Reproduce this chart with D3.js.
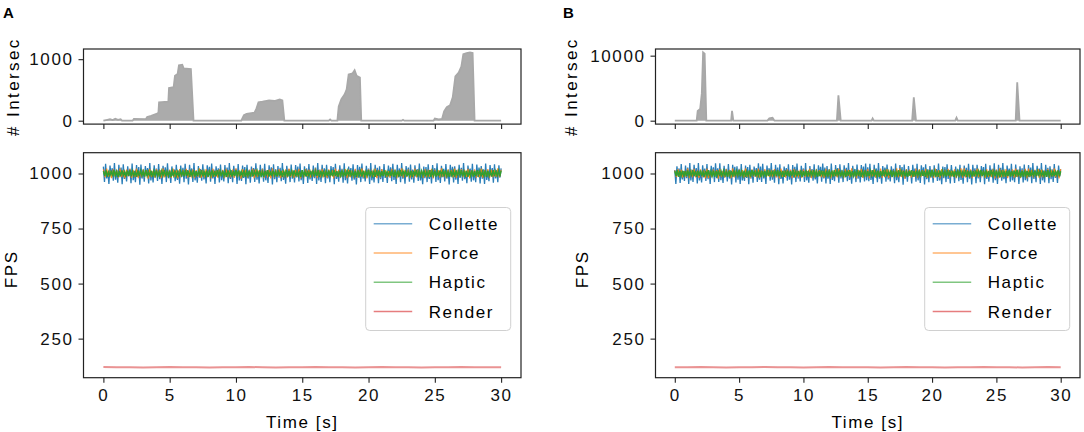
<!DOCTYPE html>
<html>
<head>
<meta charset="utf-8">
<script src="https://cdn.jsdelivr.net/npm/d3@7"></script>
<style>
  body { margin: 0; background: #fff; }
  svg { display: block; }
  text { font-family: "Liberation Sans", Arial, sans-serif; }
</style>
</head>
<body>
<div id="chart"></div>
<script>
// ---- intersections over time ----
const intersecTimeA = [0, 0.3, 0.5, 0.7, 0.9, 1.1, 1.3, 1.4, 2.2, 2.3, 3.2, 3.3, 3.6, 4.0, 4.15, 4.2, 4.9, 4.95, 5.3, 5.4, 5.6, 5.7, 5.95, 6.05, 6.6, 6.8,
  10.4, 10.6, 10.8, 11.4, 11.55, 11.7, 12.0, 12.5, 12.9, 13.3, 13.5, 13.65,
  17.0, 17.1, 17.2, 17.65, 17.75, 17.95, 18.2, 18.35, 18.5, 18.8, 18.95, 19.1, 19.35, 19.45,
  22.5, 22.6, 22.7, 24.9, 25.0, 25.3, 25.55, 25.7, 25.9, 26.15, 26.35, 26.55, 26.8, 27.0, 27.15, 27.4, 27.65, 27.85, 28.0, 30];
const intersecCountA = [0, 15, 25, 10, 30, 15, 25, 0, 0, 30, 25, 60, 80, 110, 130, 300, 310, 530, 545, 730, 760, 900, 910, 850, 840, 0,
  0, 90, 110, 130, 200, 300, 310, 330, 320, 345, 330, 0,
  0, 20, 0, 0, 230, 350, 430, 510, 750, 770, 820, 730, 700, 0,
  0, 15, 0, 0, 35, 20, 30, 150, 220, 250, 380, 720, 780, 880, 1080, 1100, 1110, 1100, 0, 0];

const intersecTimeB = [0, 1.7, 1.78, 1.97, 2.1, 2.2, 2.32, 2.45, 4.38, 4.45, 4.55, 7.2, 7.35, 7.6, 7.75,
  12.6, 12.72, 12.9, 15.3, 15.38, 15.48, 18.45, 18.58, 18.75, 21.8, 21.9, 22.0, 26.5, 26.62, 26.8, 30];
const intersecCountB = [0, 0, 1500, 1800, 4200, 10500, 10300, 0, 0, 1500, 0, 0, 350, 450, 0,
  0, 3900, 0, 0, 350, 0, 0, 3600, 0, 0, 450, 0, 0, 5900, 0, 0];

// ---- frame rates, evenly sampled over 0..30 s ----
const colletteA = [
  1031, 962, 1044, 978, 1009, 953, 1036, 991, 1024, 967, 1047, 972, 1015, 958, 1039, 983, 1027, 951, 1042, 975,
  1006, 964, 1033, 988, 1021, 956, 1045, 970, 1012, 960, 1038, 985, 1029, 949, 1041, 977, 1017, 963, 1034, 990,
  1025, 955, 1048, 968, 1010, 959, 1037, 982, 1022, 966, 1043, 974, 1014, 952, 1035, 987, 1028, 961, 1046, 979,
  1008, 957, 1032, 989, 1019, 965, 1040, 971, 1013, 954, 1036, 984, 1026, 960, 1044, 976, 1016, 950, 1039, 986,
  1023, 962, 1047, 969, 1011, 958, 1034, 981, 1020, 967, 1042, 973, 1007, 955, 1037, 988, 1030, 963, 1045, 978,
  1018, 952, 1033, 985, 1024, 959, 1041, 970, 1012, 964, 1038, 983, 1027, 956, 1048, 975, 1015, 961, 1035, 990,
  1021, 953, 1043, 968, 1009, 966, 1036, 980, 1029, 951, 1040, 977, 1017, 958, 1032, 986, 1025, 962, 1046, 972,
  1010, 955, 1039, 984, 1022, 963, 1044, 969, 1014, 957, 1037, 989, 1028, 950, 1042, 974, 1019, 960, 1034, 981,
  1026, 965, 1047, 971, 1008, 954, 1035, 987, 1020, 961, 1041, 976, 1013, 959, 1038, 982, 1031, 964, 1045, 970,
  1016, 952, 1033, 988, 1023, 957, 1043, 973, 1011, 966, 1036, 979, 1027, 953, 1048, 968, 1018, 962, 1040, 985,
  1024, 956, 1039, 978, 1012, 960, 1034, 990, 1029, 951, 1044, 975, 1009, 963, 1037, 983, 1021, 958, 1046, 970,
  1014, 955, 1032, 986, 1025, 967, 1042, 972, 1017, 950, 1038, 981, 1030, 961, 1045, 977, 1010, 964, 1035, 989,
  1022, 953, 1047, 969, 1013, 959, 1040, 984, 1026, 956, 1033, 974, 1019, 962, 1043, 980, 1008, 957, 1036, 987,
  1028, 965, 1044, 971, 1015, 952, 1039, 982, 1023, 960, 1048, 976, 1011, 954, 1034, 988, 1027, 963, 1041, 973,
  1018, 958, 1037, 985, 1020, 966, 1045, 968, 1009, 951, 1032, 979, 1029, 961, 1042, 975, 1016, 955, 1038, 990,
  1024, 962, 1046, 970, 1012, 957, 1035, 983, 1021, 964, 1043, 977, 1014, 950, 1040, 986, 1030, 959, 1033, 972,
  1017, 953, 1039, 981, 1026, 967, 1047, 974, 1010, 956, 1036, 989, 1022, 963, 1044, 969, 1013, 960, 1041, 984,
  1027, 955, 1034, 976, 1019, 952, 1045, 971, 1008, 965, 1038, 987, 1025, 958, 1042, 978, 1015, 961, 1037, 982,
  1023];
const forceA = [
  1019, 982, 1022, 986, 1013, 979, 1020, 988, 1016, 981, 1023, 984, 1010, 978, 1018, 987, 1021, 980, 1014, 985,
  1022, 979, 1011, 983, 1019, 988, 1015, 977, 1021, 984, 1012, 981, 1020, 986, 1017, 979, 1023, 982, 1009, 987,
  1018, 980, 1022, 985, 1014, 978, 1020, 983, 1016, 988, 1021, 981, 1012, 986, 1019, 979, 1015, 984, 1023, 980,
  1011, 987, 1020, 982, 1017, 978, 1022, 985, 1013, 981, 1019, 988, 1016, 979, 1021, 983, 1010, 986, 1018, 980,
  1023, 984, 1014, 977, 1020, 987, 1017, 981, 1012, 985, 1022, 979, 1019, 983, 1015, 988, 1021, 980, 1011, 986,
  1018, 978, 1023, 982, 1016, 985, 1020, 979, 1013, 987, 1019, 981, 1022, 984, 1010, 980, 1017, 986, 1021, 978,
  1014, 983, 1020, 988, 1018, 981, 1012, 985, 1023, 979, 1016, 982, 1021, 987, 1011, 980, 1019, 984, 1015, 978,
  1022, 986, 1017, 981, 1013, 988, 1020, 979, 1018, 983, 1009, 985, 1021, 980, 1016, 987, 1023, 982, 1014, 978,
  1019, 984, 1012, 986, 1022, 979, 1017, 981, 1020, 988, 1015, 983, 1011, 980, 1021, 985, 1018, 978, 1013, 987,
  1023, 981, 1016, 984, 1019, 979, 1010, 986, 1022, 982, 1017, 988, 1014, 980, 1020, 983, 1012, 985, 1021, 978,
  1018, 987, 1015, 981, 1023, 984, 1011, 979, 1019, 986, 1016, 982, 1022, 980, 1013, 988, 1020, 983, 1017, 985,
  1021, 978, 1014, 987, 1019, 981, 1012, 984, 1022, 980, 1016, 986, 1020, 979, 1018, 983, 1010, 985, 1023, 982,
  1017];
const hapticA = [
  1011, 989, 1014, 986, 1008, 991, 1013, 987, 1015, 990, 1010, 985, 1012, 988, 1014, 992, 1009, 986, 1013, 989,
  1015, 987, 1011, 990, 1007, 985, 1014, 988, 1012, 991, 1010, 986, 1015, 989, 1009, 987, 1013, 985, 1011, 990,
  1014, 988, 1008, 986, 1012, 991, 1015, 987, 1010, 989, 1013, 985, 1011, 990, 1014, 988, 1009, 986, 1012, 992,
  1010, 987, 1015, 989, 1013, 985, 1008, 990, 1014, 986, 1011, 988, 1012, 991, 1015, 987, 1010, 989, 1013, 985,
  1009, 990, 1014, 986, 1012, 988, 1015, 991, 1011, 987, 1013, 989, 1008, 985, 1014, 990, 1010, 986, 1012, 988,
  1015, 991, 1013, 987, 1009, 989, 1014, 985, 1011, 990, 1012, 986, 1015, 988, 1010, 992, 1013, 987, 1014, 989,
  1008, 985, 1012, 990, 1015, 986, 1011, 988, 1013, 991, 1009, 987, 1014, 989, 1012, 985, 1010, 990, 1015, 986,
  1013, 988, 1011, 991, 1014, 987, 1008, 989, 1012, 985, 1015, 990, 1010, 986, 1013, 988, 1009, 992, 1014, 987,
  1011, 989, 1015, 985, 1012, 990, 1013, 986, 1010, 988, 1014, 991, 1009, 987, 1015, 989, 1011, 985, 1012, 990,
  1014, 986, 1010, 988, 1013, 992, 1015, 987, 1008, 989, 1012, 985, 1014, 990, 1011, 986, 1013, 988, 1009, 991,
  1015, 987, 1012, 989, 1010, 985, 1014, 990, 1013, 986, 1011, 988, 1015, 991, 1009, 987, 1012, 989, 1014, 985,
  1010, 990, 1013, 986, 1015, 988, 1011, 992, 1014, 987, 1008, 989, 1012, 985, 1013, 990, 1015, 986, 1010, 988,
  1012, 991, 1014, 987, 1009, 989, 1015, 985, 1011, 990, 1013, 986, 1010, 988, 1014, 992, 1012, 987, 1015, 989,
  1008, 985, 1013, 990, 1011, 986, 1014, 988, 1012, 991, 1015, 987, 1010, 989, 1013, 985, 1009, 990, 1014, 986,
  1011, 988, 1015, 992, 1012, 987, 1010, 989, 1014, 985, 1013, 990, 1008, 986, 1015, 988, 1011, 991, 1012, 987,
  1013];
const renderA = [121, 120, 120, 119, 120, 121, 120, 120, 119, 120, 120, 121, 120, 119, 120, 120, 121, 120, 120, 119, 120, 121, 120, 120, 119, 120, 120, 121, 120, 120, 120];

const colletteB = [
  1016, 952, 1033, 988, 1023, 957, 1043, 973, 1011, 966, 1036, 979, 1027, 953, 1048, 968, 1018, 962, 1040, 985,
  1025, 955, 1048, 968, 1010, 959, 1037, 982, 1022, 966, 1043, 974, 1014, 952, 1035, 987, 1028, 961, 1046, 979,
  1024, 962, 1046, 970, 1012, 957, 1035, 983, 1021, 964, 1043, 977, 1014, 950, 1040, 986, 1030, 959, 1033, 972,
  1021, 953, 1043, 968, 1009, 966, 1036, 980, 1029, 951, 1040, 977, 1017, 958, 1032, 986, 1025, 962, 1046, 972,
  1031, 962, 1044, 978, 1009, 953, 1036, 991, 1024, 967, 1047, 972, 1015, 958, 1039, 983, 1027, 951, 1042, 975,
  1014, 955, 1032, 986, 1025, 967, 1042, 972, 1017, 950, 1038, 981, 1030, 961, 1045, 977, 1010, 964, 1035, 989,
  1023, 962, 1047, 969, 1011, 958, 1034, 981, 1020, 967, 1042, 973, 1007, 955, 1037, 988, 1030, 963, 1045, 978,
  1027, 955, 1034, 976, 1019, 952, 1045, 971, 1008, 965, 1038, 987, 1025, 958, 1042, 978, 1015, 961, 1037, 982,
  1026, 965, 1047, 971, 1008, 954, 1035, 987, 1020, 961, 1041, 976, 1013, 959, 1038, 982, 1031, 964, 1045, 970,
  1028, 965, 1044, 971, 1015, 952, 1039, 982, 1023, 960, 1048, 976, 1011, 954, 1034, 988, 1027, 963, 1041, 973,
  1006, 964, 1033, 988, 1021, 956, 1045, 970, 1012, 960, 1038, 985, 1029, 949, 1041, 977, 1017, 963, 1034, 990,
  1010, 955, 1039, 984, 1022, 963, 1044, 969, 1014, 957, 1037, 989, 1028, 950, 1042, 974, 1019, 960, 1034, 981,
  1018, 958, 1037, 985, 1020, 966, 1045, 968, 1009, 951, 1032, 979, 1029, 961, 1042, 975, 1016, 955, 1038, 990,
  1008, 957, 1032, 989, 1019, 965, 1040, 971, 1013, 954, 1036, 984, 1026, 960, 1044, 976, 1016, 950, 1039, 986,
  1024, 956, 1039, 978, 1012, 960, 1034, 990, 1029, 951, 1044, 975, 1009, 963, 1037, 983, 1021, 958, 1046, 970,
  1017, 953, 1039, 981, 1026, 967, 1047, 974, 1010, 956, 1036, 989, 1022, 963, 1044, 969, 1013, 960, 1041, 984,
  1018, 952, 1033, 985, 1024, 959, 1041, 970, 1012, 964, 1038, 983, 1027, 956, 1048, 975, 1015, 961, 1035, 990,
  1022, 953, 1047, 969, 1013, 959, 1040, 984, 1026, 956, 1033, 974, 1019, 962, 1043, 980, 1008, 957, 1036, 987,
  1019];
const forceB = [
  1014, 983, 1020, 988, 1018, 981, 1012, 985, 1023, 979, 1016, 982, 1021, 987, 1011, 980, 1019, 984, 1015, 978,
  1022, 979, 1011, 983, 1019, 988, 1015, 977, 1021, 984, 1012, 981, 1020, 986, 1017, 979, 1023, 982, 1009, 987,
  1018, 987, 1015, 981, 1023, 984, 1011, 979, 1019, 986, 1016, 982, 1022, 980, 1013, 988, 1020, 983, 1017, 985,
  1011, 987, 1020, 982, 1017, 978, 1022, 985, 1013, 981, 1019, 988, 1016, 979, 1021, 983, 1010, 986, 1018, 980,
  1019, 984, 1012, 986, 1022, 979, 1017, 981, 1020, 988, 1015, 983, 1011, 980, 1021, 985, 1018, 978, 1013, 987,
  1019, 982, 1022, 986, 1013, 979, 1020, 988, 1016, 981, 1023, 984, 1010, 978, 1018, 987, 1021, 980, 1014, 985,
  1021, 978, 1014, 987, 1019, 981, 1012, 984, 1022, 980, 1016, 986, 1020, 979, 1018, 983, 1010, 985, 1023, 982,
  1023, 984, 1014, 977, 1020, 987, 1017, 981, 1012, 985, 1022, 979, 1019, 983, 1015, 988, 1021, 980, 1011, 986,
  1018, 980, 1022, 985, 1014, 978, 1020, 983, 1016, 988, 1021, 981, 1012, 986, 1019, 979, 1015, 984, 1023, 980,
  1023, 981, 1016, 984, 1019, 979, 1010, 986, 1022, 982, 1017, 988, 1014, 980, 1020, 983, 1012, 985, 1021, 978,
  1018, 978, 1023, 982, 1016, 985, 1020, 979, 1013, 987, 1019, 981, 1022, 984, 1010, 980, 1017, 986, 1021, 978,
  1022, 986, 1017, 981, 1013, 988, 1020, 979, 1018, 983, 1009, 985, 1021, 980, 1016, 987, 1023, 982, 1014, 978,
  1020];
const hapticB = [
  1011, 989, 1015, 985, 1012, 990, 1013, 986, 1010, 988, 1014, 991, 1009, 987, 1015, 989, 1011, 985, 1012, 990,
  1014, 988, 1008, 986, 1012, 991, 1015, 987, 1010, 989, 1013, 985, 1011, 990, 1014, 988, 1009, 986, 1012, 992,
  1008, 985, 1013, 990, 1011, 986, 1014, 988, 1012, 991, 1015, 987, 1010, 989, 1013, 985, 1009, 990, 1014, 986,
  1015, 991, 1013, 987, 1009, 989, 1014, 985, 1011, 990, 1012, 986, 1015, 988, 1010, 992, 1013, 987, 1014, 989,
  1015, 987, 1012, 989, 1010, 985, 1014, 990, 1013, 986, 1011, 988, 1015, 991, 1009, 987, 1012, 989, 1014, 985,
  1011, 989, 1014, 986, 1008, 991, 1013, 987, 1015, 990, 1010, 985, 1012, 988, 1014, 992, 1009, 986, 1013, 989,
  1010, 990, 1013, 986, 1015, 988, 1011, 992, 1014, 987, 1008, 989, 1012, 985, 1013, 990, 1015, 986, 1010, 988,
  1010, 987, 1015, 989, 1013, 985, 1008, 990, 1014, 986, 1011, 988, 1012, 991, 1015, 987, 1010, 989, 1013, 985,
  1011, 988, 1015, 992, 1012, 987, 1010, 989, 1014, 985, 1013, 990, 1008, 986, 1015, 988, 1011, 991, 1012, 987,
  1008, 985, 1012, 990, 1015, 986, 1011, 988, 1013, 991, 1009, 987, 1014, 989, 1012, 985, 1010, 990, 1015, 986,
  1015, 987, 1011, 990, 1007, 985, 1014, 988, 1012, 991, 1010, 986, 1015, 989, 1009, 987, 1013, 985, 1011, 990,
  1012, 991, 1014, 987, 1009, 989, 1015, 985, 1011, 990, 1013, 986, 1010, 988, 1014, 992, 1012, 987, 1015, 989,
  1009, 990, 1014, 986, 1012, 988, 1015, 991, 1011, 987, 1013, 989, 1008, 985, 1014, 990, 1010, 986, 1012, 988,
  1014, 986, 1010, 988, 1013, 992, 1015, 987, 1008, 989, 1012, 985, 1014, 990, 1011, 986, 1013, 988, 1009, 991,
  1013, 988, 1011, 991, 1014, 987, 1008, 989, 1012, 985, 1015, 990, 1010, 986, 1013, 988, 1009, 992, 1014, 987,
  1010];
const renderB = [120, 120, 121, 120, 119, 120, 120, 121, 120, 120, 119, 120, 121, 120, 120, 120, 119, 120, 121, 120, 120, 119, 120, 120, 121, 120, 120, 119, 120, 121, 120];

const seriesNames = ["Collette", "Force", "Haptic", "Render"];
const seriesColors = ["#1f77b4", "#ff7f0e", "#2ca02c", "#d62728"];
const seriesWidths = [1.3, 1.1, 1.5, 2];
const seriesOpacity = [0.95, 0.9, 0.95, 0.5];
const timeTicks = [0, 5, 10, 15, 20, 25, 30];
const fpsTicks = [250, 500, 750, 1000];

const W = 1084, H = 432;
const FONT = 17, SPACING = "1.6px";

const svg = d3.select("#chart").append("svg")
    .attr("width", W).attr("height", H);

const panels = [
    {
        label: "A", labelX: 3, left: 83.5, right: 521,
        ylabX: 18.5, fpsLabX: 17,
        t: intersecTimeA, v: intersecCountA, vTicks: [0, 1000],
        fps: [colletteA, forceA, hapticA, renderA]
    },
    {
        label: "B", labelX: 563, left: 655.5, right: 1080,
        ylabX: 576.5, fpsLabX: 588,
        t: intersecTimeB, v: intersecCountB, vTicks: [0, 10000],
        fps: [colletteB, forceB, hapticB, renderB]
    }
];

const topBox = { top: 49, bottom: 124.1 };
const botBox = { top: 152.7, bottom: 377.7 };

// matplotlib style 5% autoscale margin
function padded(lo, hi) {
    const m = (hi - lo) * 0.05;
    return [lo - m, hi + m];
}

function styleAxis(g) {
    g.select(".domain").remove();
    g.selectAll(".tick line").attr("stroke", "#222").attr("stroke-width", 1.1);
    g.selectAll(".tick text")
        .attr("fill", "#111")
        .style("font-size", FONT + "px")
        .style("font-family", '"Liberation Sans", Arial, sans-serif')
        .style("letter-spacing", SPACING);
}

function drawPanel(p) {
    const x = d3.scaleLinear().domain(padded(0, 30)).range([p.left, p.right]);

    // panel letter
    svg.append("text")
        .attr("x", p.labelX).attr("y", 17.5)
        .attr("font-weight", "bold")
        .attr("font-size", "15px")
        .text(p.label);

    // ---------- intersections ----------
    const yTop = d3.scaleLinear()
        .domain(padded(0, d3.max(p.v)))
        .range([topBox.bottom, topBox.top]);

    const pts = p.t.map((t, i) => [t, p.v[i]]);

    const area = d3.area()
        .x(d => x(d[0]))
        .y0(yTop(0))
        .y1(d => yTop(d[1]));
    const line = d3.line()
        .x(d => x(d[0]))
        .y(d => yTop(d[1]));

    svg.append("path").datum(pts)
        .attr("d", area)
        .attr("fill", "#ababab");
    svg.append("path").datum(pts)
        .attr("d", line)
        .attr("fill", "none")
        .attr("stroke", "#a8a8a8")
        .attr("stroke-width", 1.8);

    svg.append("g")
        .attr("transform", `translate(${p.left},0)`)
        .call(d3.axisLeft(yTop).tickValues(p.vTicks).tickFormat(d3.format("d"))
            .tickSize(5).tickPadding(5))
        .call(styleAxis);
    svg.append("g")
        .attr("transform", `translate(0,${topBox.bottom})`)
        .call(d3.axisBottom(x).tickValues(timeTicks).tickSize(5).tickFormat(""))
        .call(styleAxis);

    svg.append("rect")
        .attr("x", p.left).attr("y", topBox.top)
        .attr("width", p.right - p.left).attr("height", topBox.bottom - topBox.top)
        .attr("fill", "none").attr("stroke", "#222").attr("stroke-width", 1.2);

    svg.append("text")
        .attr("transform", `translate(${p.ylabX},${(topBox.top + topBox.bottom) / 2}) rotate(-90)`)
        .attr("text-anchor", "middle")
        .style("font-size", FONT + "px")
        .style("letter-spacing", "2.4px")
        .text("# Intersec");

    // ---------- frame rates ----------
    const allFps = p.fps.flat();
    const yBot = d3.scaleLinear()
        .domain(padded(d3.min(allFps), d3.max(allFps)))
        .range([botBox.bottom, botBox.top]);

    p.fps.forEach((vals, k) => {
        const step = 30 / (vals.length - 1);
        const fl = d3.line()
            .x((d, i) => x(i * step))
            .y(d => yBot(d));
        svg.append("path").datum(vals)
            .attr("d", fl)
            .attr("fill", "none")
            .attr("stroke", seriesColors[k])
            .attr("stroke-width", seriesWidths[k])
            .attr("stroke-opacity", seriesOpacity[k]);
    });

    svg.append("g")
        .attr("transform", `translate(${p.left},0)`)
        .call(d3.axisLeft(yBot).tickValues(fpsTicks).tickFormat(d3.format("d"))
            .tickSize(5).tickPadding(5))
        .call(styleAxis);
    svg.append("g")
        .attr("transform", `translate(0,${botBox.bottom})`)
        .call(d3.axisBottom(x).tickValues(timeTicks).tickSize(5).tickPadding(6))
        .call(styleAxis);

    svg.append("rect")
        .attr("x", p.left).attr("y", botBox.top)
        .attr("width", p.right - p.left).attr("height", botBox.bottom - botBox.top)
        .attr("fill", "none").attr("stroke", "#222").attr("stroke-width", 1.2);

    svg.append("text")
        .attr("transform", `translate(${p.fpsLabX},${(botBox.top + botBox.bottom) / 2 + 4}) rotate(-90)`)
        .attr("text-anchor", "middle")
        .style("font-size", FONT + "px")
        .style("letter-spacing", SPACING)
        .text("FPS");

    svg.append("text")
        .attr("x", (p.left + p.right) / 2)
        .attr("y", 427.5)
        .attr("text-anchor", "middle")
        .style("font-size", FONT + "px")
        .style("letter-spacing", SPACING)
        .text("Time [s]");

    // legend
    const lw = 145, lh = 123;
    const lg = svg.append("g")
        .attr("transform", `translate(${p.right - 10.3 - lw},${botBox.top + 54.8})`);
    lg.append("rect")
        .attr("width", lw).attr("height", lh)
        .attr("rx", 4).attr("ry", 4)
        .attr("fill", "#fff").attr("fill-opacity", 0.8)
        .attr("stroke", "#d0d0d0").attr("stroke-width", 1);
    seriesNames.forEach((name, i) => {
        const cy = 16.2 + i * 29.3;
        lg.append("line")
            .attr("x1", 8).attr("x2", 46.5)
            .attr("y1", cy).attr("y2", cy)
            .attr("stroke", seriesColors[i])
            .attr("stroke-opacity", 0.6)
            .attr("stroke-width", 1.5);
        lg.append("text")
            .attr("x", 63).attr("y", cy)
            .attr("dy", "0.36em")
            .style("font-size", FONT + "px")
            .style("letter-spacing", SPACING)
            .text(name);
    });
}

panels.forEach(drawPanel);
</script>
</body>
</html>
